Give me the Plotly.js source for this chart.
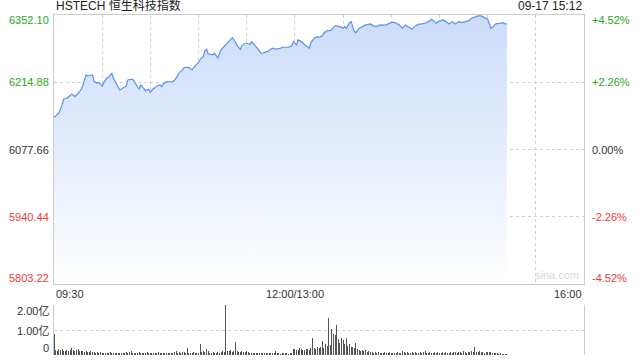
<!DOCTYPE html>
<html>
<head>
<meta charset="utf-8">
<script src="https://cdn.plot.ly/plotly-3.0.1.min.js"></script>
<style>
  html, body { margin: 0; padding: 0; background: #fff; }
  #chart { width: 640px; height: 360px; }
</style>
</head>
<body>
<div id="chart"></div>
<script>
// ---------- data ----------
const chartTitle = 'HSTECH 恒生科技指数';
const timeStamp = '09-17 15:12';
const prevClose = 6077.66;

// minute index since 09:30 (morning 0-150, afternoon 150-330 = 13:00-16:00)
const minutes = [0,2,3,5,6,8,9,11,12,13,15,17,18,20,21,22,24,25,27,28,30,31,33,34,36,37,38,40,41,43,45,46,48,49,50,52,53,54,56,57,59,60,61,63,64,66,67,68,70,71,72,74,76,77,78,80,81,83,84,86,87,89,90,91,93,94,95,96,97,99,100,102,104,105,106,108,110,111,113,114,116,117,119,120,122,123,124,126,127,129,130,132,133,135,136,138,139,141,142,146,148,149,151,152,154,156,157,159,160,162,164,165,167,168,170,172,173,175,176,178,180,181,182,184,185,186,187,188,190,192,194,197,199,201,203,205,207,209,211,213,215,217,219,220,223,225,227,229,231,233,235,237,238,240,242,244,246,248,250,252,254,256,258,260,262,264,266,268,270,271,272,274,275,278,279,281,282];
const prices = [6143.4,6148.1,6151.6,6168.5,6180.2,6182.2,6185.5,6190.4,6188.9,6185.5,6192.4,6200.6,6209.4,6229.8,6227.7,6228.4,6229.8,6216.1,6212.8,6214.9,6207.3,6214.1,6224.3,6225.1,6233.3,6223.0,6216.1,6204.7,6199.2,6202.6,6207.3,6219.6,6219.6,6221.0,6216.1,6205.9,6200.6,6209.4,6200.6,6197.7,6200.6,6193.6,6199.2,6205.9,6207.3,6209.4,6205.9,6210.8,6216.1,6215.5,6216.1,6216.1,6223.0,6229.8,6234.5,6240.0,6244.7,6245.5,6244.7,6240.0,6245.5,6252.2,6254.9,6261.8,6267.2,6279.4,6282.3,6272.7,6272.1,6270.6,6274.1,6263.9,6280.8,6284.3,6287.6,6294.5,6301.3,6306.0,6296.6,6289.6,6282.3,6289.6,6294.5,6294.5,6292.5,6297.8,6294.5,6287.6,6282.3,6274.1,6274.1,6277.4,6277.4,6282.3,6284.3,6282.3,6282.9,6284.3,6286.3,6286.3,6289.0,6297.8,6291.0,6301.3,6297.8,6291.0,6289.0,6284.3,6295.7,6304.7,6308.0,6306.8,6309.4,6314.9,6320.2,6320.2,6323.1,6329.8,6329.8,6328.4,6325.1,6328.4,6325.1,6336.6,6338.6,6328.4,6318.2,6316.2,6325.1,6328.4,6331.9,6333.9,6329.8,6328.4,6331.9,6331.3,6331.9,6335.4,6337.4,6335.4,6331.9,6325.1,6331.9,6328.4,6323.7,6329.8,6333.3,6333.9,6335.4,6338.6,6343.5,6338.6,6335.4,6340.1,6342.1,6338.6,6333.9,6338.6,6333.9,6338.6,6336.6,6338.6,6340.1,6345.6,6348.8,6350.3,6350.3,6347.6,6343.5,6335.4,6325.1,6329.8,6333.9,6335.4,6336.6,6333.9,6333.9];

// volume per minute, unit: 亿 (1e8), minutes 0..282
const volMinutes = Array.from({length: 283}, (_, i) => i);
const volumes = [
  0.83,
  0.19,0.15,0.22,0.18,0.24,0.17,0.16,0.21,0.14,0.18,
  0.26,0.20,0.15,0.19,0.22,0.16,0.14,0.17,0.12,0.15,
  0.13,0.11,0.14,0.10,0.12,0.09,0.11,0.08,0.10,0.09,
  0.07,0.09,0.08,0.06,0.10,0.07,0.08,0.06,0.07,0.09,
  0.08,0.06,0.07,0.09,0.12,0.08,0.10,0.17,0.09,0.07,
  0.08,0.06,0.10,0.07,0.09,0.08,0.06,0.11,0.07,0.08,
  0.09,0.07,0.06,0.08,0.10,0.07,0.09,0.06,0.08,0.07,
  0.06,0.08,0.07,0.09,0.10,0.17,0.08,0.11,0.09,0.12,
  0.10,0.08,0.29,0.09,0.07,0.08,0.10,0.06,0.09,0.08,
  0.45,0.12,0.16,0.10,0.23,0.14,0.08,0.07,0.10,0.09,
  0.08,0.11,0.09,0.13,0.15,0.12,2.00,0.16,0.14,0.18,
  0.12,0.15,0.52,0.16,0.13,0.11,0.14,0.12,0.10,0.16,
  0.13,0.08,0.07,0.09,0.06,0.08,0.07,0.09,0.06,0.08,
  0.07,0.06,0.08,0.09,0.07,0.06,0.08,0.17,0.06,0.07,
  0.05,0.06,0.07,0.06,0.08,0.05,0.07,0.06,0.22,
  0.25,0.20,0.18,0.27,0.23,0.21,0.19,0.25,0.22,0.20,0.26,
  0.69,0.28,0.24,0.30,0.26,0.33,0.55,0.29,0.45,0.35,
  1.49,0.40,1.03,0.83,0.79,1.20,0.63,0.49,0.69,0.60,
  0.42,0.69,0.35,0.43,0.30,0.32,0.26,0.48,0.22,0.18,
  0.16,0.20,0.15,0.18,0.13,0.16,0.12,0.10,0.09,0.11,
  0.08,0.10,0.07,0.09,0.08,0.11,0.07,0.09,0.10,0.08,
  0.07,0.09,0.08,0.10,0.07,0.09,0.15,0.11,0.08,0.10,
  0.09,0.07,0.10,0.08,0.12,0.09,0.07,0.10,0.08,0.11,
  0.15,0.09,0.08,0.10,0.07,0.09,0.12,0.08,0.10,0.07,
  0.09,0.11,0.08,0.12,0.09,0.07,0.10,0.08,0.11,0.13,
  0.09,0.12,0.10,0.08,0.14,0.11,0.09,0.12,0.10,0.15,
  0.11,0.30,0.13,0.12,0.14,0.10,0.12,0.09,0.11,0.13,
  0.10,0.12,0.09,0.08,0.07,0.06,0.05,0.06,0.05,0.04,0.05,0.04
];

// axis ticks
const priceTicks = [6352.10, 6214.88, 6077.66, 5940.44, 5803.22];
const priceTickLabels = ['6352.10', '6214.88', '6077.66', '5940.44', '5803.22'];
const pctTickLabels = ['+4.52%', '+2.26%', '0.00%', '-2.26%', '-4.52%'];
const timeGridTicks = [30, 60, 90, 120, 150, 180, 210, 240, 270, 300];
const timeTickVals = [0, 150, 330];
const timeTickLabels = ['09:30', '12:00/13:00', '16:00'];
const volTicks = [2, 1, 0];
const volTickLabels = ['2.00亿', '1.00亿', '0'];

// ---------- styling ----------
const FONT = 'Liberation Sans, Arial, Noto Sans CJK SC, sans-serif';
const GREEN = '#1fa81f';
const RED = '#f03a3a';
const BLACK = '#333333';
const GRID = '#cfcfcf';
const BORDER = '#cccccc';
const LINE = '#5b8ff0';

function signColor(v) {
  if (Math.abs(v - prevClose) < 1e-6) return BLACK;
  return v > prevClose ? GREEN : RED;
}

const traces = [
  {
    type: 'scatter', mode: 'lines',
    x: minutes, y: prices,
    xaxis: 'x', yaxis: 'y',
    line: {color: LINE, width: 1.2},
    fill: 'tozeroy',
    fillgradient: {
      type: 'vertical',
      start: priceTicks[4], stop: priceTicks[0],
      colorscale: [[0, 'rgba(255,255,255,1)'], [1, 'rgba(203,220,250,1)']]
    },
    hoverinfo: 'skip'
  },
  {
    type: 'bar',
    x: volMinutes, y: volumes,
    xaxis: 'x2', yaxis: 'y2',
    marker: {color: '#555555', line: {width: 0}},
    width: 0.62,
    hoverinfo: 'skip'
  }
];

const annotations = [];
const n = priceTicks.length;
priceTicks.forEach((v, i) => {
  const ys = i === 0 ? -4.5 : (i === n - 1 ? 6 : 0);
  annotations.push({
    xref: 'paper', yref: 'y', x: 0, y: v, xanchor: 'right', yanchor: 'middle',
    xshift: -3, yshift: ys, showarrow: false, text: priceTickLabels[i],
    font: {family: FONT, size: 11, color: signColor(v)}
  });
  annotations.push({
    xref: 'paper', yref: 'y', x: 1, y: v, xanchor: 'left', yanchor: 'middle',
    xshift: 6, yshift: ys, showarrow: false, text: pctTickLabels[i],
    font: {family: FONT, size: 11, color: signColor(v)}
  });
});
const anchors = ['left', 'center', 'right'];
timeTickVals.forEach((t, i) => {
  annotations.push({
    xref: 'x', yref: 'paper', x: t, y: 0.179, xanchor: anchors[i], yanchor: 'middle',
    showarrow: false, text: timeTickLabels[i],
    font: {family: FONT, size: 11, color: BLACK}
  });
});
volTicks.forEach((v, i) => {
  const ys = i === 0 ? -6 : (i === volTicks.length - 1 ? 7 : -1);
  annotations.push({
    xref: 'paper', yref: 'y2', x: 0, y: v, xanchor: 'right', yanchor: 'middle',
    xshift: -3, yshift: ys, showarrow: false, text: volTickLabels[i],
    font: {family: FONT, size: 11, color: BLACK}
  });
});
// title / time / watermark
annotations.push({
  xref: 'paper', yref: 'paper', x: 0, y: 1, xanchor: 'left', yanchor: 'bottom',
  xshift: 0, yshift: 0, showarrow: false, text: chartTitle,
  font: {family: FONT, size: 12, color: '#222'}
});
annotations.push({
  xref: 'paper', yref: 'paper', x: 1, y: 1, xanchor: 'right', yanchor: 'bottom',
  showarrow: false, text: timeStamp,
  font: {family: FONT, size: 12, color: '#222'}
});
annotations.push({
  xref: 'x', yref: 'y', x: 330, y: priceTicks[4], xanchor: 'right', yanchor: 'bottom',
  xshift: -3, yshift: 1, showarrow: false, text: 'sina.com',
  font: {family: FONT, size: 11, color: '#d8d8d8'}
});

const layout = {
  width: 640, height: 360,
  margin: {l: 54, r: 56, t: 15, b: 5},
  paper_bgcolor: '#fff', plot_bgcolor: '#fff',
  showlegend: false,
  bargap: 0,
  xaxis: {
    domain: [0, 1], anchor: 'y', range: [0, 330],
    tickvals: timeGridTicks, showticklabels: false, ticks: '',
    showgrid: true, gridcolor: GRID, griddash: 'dot', gridwidth: 1,
    showline: true, linecolor: BORDER, linewidth: 1, mirror: true,
    zeroline: false, fixedrange: true
  },
  yaxis: {
    domain: [0.2088, 1], anchor: 'x', range: [priceTicks[4], priceTicks[0]],
    tickvals: priceTicks, showticklabels: false, ticks: '',
    showgrid: true, gridcolor: GRID, griddash: 'dot', gridwidth: 1,
    showline: true, linecolor: BORDER, linewidth: 1, mirror: true,
    zeroline: false, fixedrange: true
  },
  xaxis2: {
    domain: [0, 1], anchor: 'y2', range: [0, 330],
    showticklabels: false, ticks: '', showgrid: false,
    showline: false, zeroline: false, fixedrange: true
  },
  yaxis2: {
    domain: [0, 0.147], anchor: 'x2', range: [0, 2],
    tickvals: [1, 2], showticklabels: false, ticks: '',
    showgrid: true, gridcolor: GRID, griddash: 'dot', gridwidth: 1,
    showline: true, linecolor: BORDER, linewidth: 1, mirror: true,
    zeroline: false, fixedrange: true
  },
  annotations: annotations
};

Plotly.newPlot('chart', traces, layout, {staticPlot: true, displayModeBar: false});
</script>
</body>
</html>
